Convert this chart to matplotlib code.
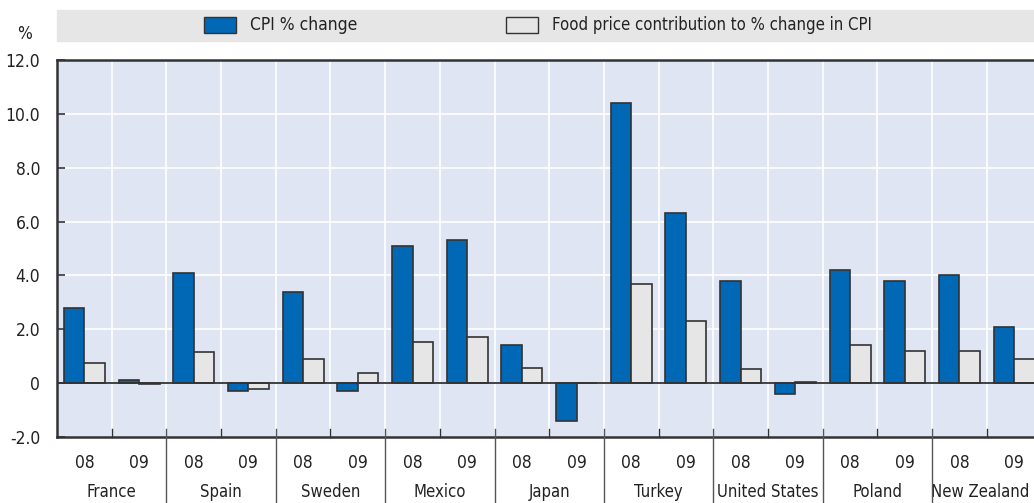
import numpy as np
import matplotlib.pyplot as plt
from matplotlib import font_manager
from matplotlib.patches import Rectangle

# data
countries = ['France', 'Spain', 'Sweden', 'Mexico', 'Japan', 'Turkey',
             'United States', 'Poland', 'New Zealand']
years = ['08', '09']
cpi_08 = [2.8, 4.1, 3.4, 5.1, 1.4, 10.4, 3.8, 4.2, 4.0]
cpi_09 = [0.1, -0.3, -0.3, 5.3, -1.4, 6.3, -0.4, 3.8, 2.1]
food_08 = [0.75, 1.14, 0.91, 1.54, 0.57, 3.67, 0.52, 1.43, 1.21]
food_09 = [-0.02, -0.23, 0.38, 1.7, 0.0, 2.3, 0.06, 1.21, 0.88]
yticks = [-2, 0, 2, 4, 6, 8, 10, 12]
ytick_labels = ['-2.0', '0', '2.0', '4.0', '6.0', '8.0', '10.0', '12.0']

# look for a narrow / condensed face
cands = [f for f in font_manager.fontManager.ttflist
         if ('Narrow' in f.name or 'Condensed' in f.name or f.stretch in ('condensed', 'semi-condensed'))
         and f.style == 'normal']
if cands:
    fam = cands[0].name
    stretch = cands[0].stretch
else:
    fam, stretch = 'DejaVu Sans', 'condensed'
plt.rcParams['font.family'] = [fam, 'DejaVu Sans']
plt.rcParams['font.stretch'] = stretch

blue = '#0068b5'
grey = '#e6e6e6'
edge = '#333333'
bg = '#dfe5f3'
txt = '#222222'
fs = 12.5

fig = plt.figure(figsize=(10.34, 5.03), dpi=100)
W, H = 1034, 503
ax = fig.add_axes([57 / W, 66 / H, (1041.5 - 57) / W, 377 / H])
ax.set_facecolor(bg)

# interleave years
cpi = np.ravel(np.column_stack([cpi_08, cpi_09]))
food = np.ravel(np.column_stack([food_08, food_09]))
n = len(cpi)
x = np.arange(n) + 0.5
bw = 0.375
ax.bar(x - bw / 2, cpi, bw, color=blue, edgecolor=edge, linewidth=1.2, zorder=3)
ax.bar(x + bw / 2, food, bw, color=grey, edgecolor=edge, linewidth=1.2, zorder=3)

ax.set_xlim(0, n)
ax.set_ylim(-2, 12)
ax.axhline(0, color=edge, lw=1.3, zorder=4)

# grid
for v in yticks[1:-1]:
    ax.axhline(v, color='white', lw=1.2, zorder=1)
for b in range(1, n):
    ax.axvline(b, color='white', lw=1.2, zorder=1)

ax.set_yticks(yticks)
ax.set_yticklabels(ytick_labels, fontsize=fs, color=txt)
ax.tick_params(axis='y', direction='in', length=6, width=1.2, color=edge, pad=12)
ax.set_xticks([])

for s in ['left', 'top', 'bottom']:
    ax.spines[s].set_color(edge)
    ax.spines[s].set_linewidth(1.8)
ax.spines['right'].set_visible(False)

# x labels
tr = ax.get_xaxis_transform()
for i in range(n):
    ax.text(x[i], -0.07, years[i % 2], transform=tr, ha='center', va='center',
            fontsize=fs, color=txt)
for c, name in enumerate(countries):
    xc = 2 * c + 1
    if c == len(countries) - 1:
        xc -= 0.12  # keep last label inside the frame
    ax.text(xc, -0.145, name, transform=tr, ha='center', va='center',
            fontsize=12, color=txt)
    # inner tick between years
    ax.plot([2 * c + 1, 2 * c + 1], [0, 0.021], transform=tr, color=edge, lw=1.0,
            clip_on=False, zorder=5)
    if c > 0:
        ax.plot([2 * c, 2 * c], [0.021, -0.2], transform=tr, color='#555555', lw=1.0,
                clip_on=False, zorder=5)

ax.text(-0.033, 1.07, '%', transform=ax.transAxes, ha='center', va='center',
        fontsize=fs, color=txt)

# legend band
fig.patches.append(Rectangle((57 / W, 1 - 41 / H), 1 - 57 / W, 31 / H,
                             transform=fig.transFigure, color='#e6e6e6', zorder=0))
fig.patches.append(Rectangle((204 / W, 1 - 33 / H), 32 / W, 16 / H,
                             transform=fig.transFigure, facecolor=blue,
                             edgecolor=edge, lw=1.0))
fig.patches.append(Rectangle((506 / W, 1 - 33 / H), 32 / W, 16 / H,
                             transform=fig.transFigure, facecolor=grey,
                             edgecolor=edge, lw=1.0))
fig.text(250 / W, 1 - 25 / H, 'CPI % change', ha='left', va='center',
         fontsize=fs, color=txt)
fig.text(552 / W, 1 - 25 / H, 'Food price contribution to % change in CPI',
         ha='left', va='center', fontsize=12, color=txt)

fig.savefig('out.png', dpi=100)
